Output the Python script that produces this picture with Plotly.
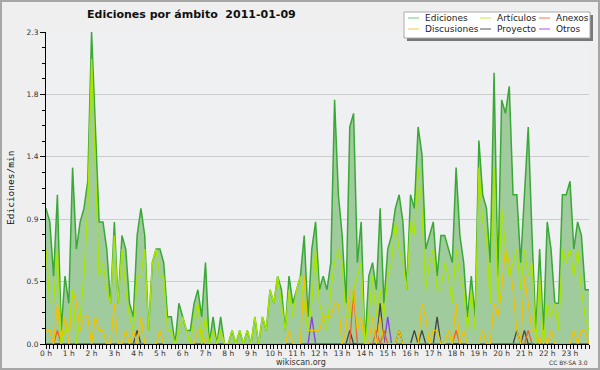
import plotly.graph_objects as go

# ---------------- data ----------------
hour_labels = [f"{h} h" for h in range(24)]
hour_ticks = [h * 60 for h in range(24)]
minutes = [i * 10 for i in range(144)]

ediciones = [
    1.0, 0.9, 0.5, 1.1, 0.1, 0.5, 0.3, 1.3, 0.7, 0.9,
    1.0, 1.2, 2.3, 1.6, 0.9, 0.9, 0.7, 0.3, 0.9, 0.3,
    0.8, 0.7, 0.3, 0.2, 0.8, 1.0, 0.8, 0.1, 0.6, 0.7,
    0.7, 0.6, 0.2, 0.2, 0.0, 0.3, 0.2, 0.1, 0.1, 0.3,
    0.4, 0.2, 0.6, 0.0, 0.2, 0.0, 0.2, 0.0, 0.0, 0.1,
    0.0, 0.1, 0.0, 0.1, 0.0, 0.2, 0.0, 0.2, 0.1, 0.4,
    0.3, 0.5, 0.4, 0.1, 0.5, 0.3, 0.4, 0.5, 0.8, 0.2,
    0.7, 0.9, 0.4, 0.5, 0.4, 0.6, 1.8, 1.1, 0.8, 0.3,
    1.6, 1.7, 0.6, 0.9, 0.0, 0.5, 0.6, 0.4, 1.0, 0.3,
    0.7, 0.8, 1.0, 1.1, 0.9, 0.4, 1.1, 1.0, 1.6, 1.4,
    0.7, 0.8, 0.9, 0.5, 0.8, 0.8, 0.7, 0.6, 1.3, 0.8,
    0.6, 0.2, 0.5, 0.2, 1.5, 1.1, 1.0, 0.6, 2.0, 0.5,
    1.8, 1.7, 1.9, 1.1, 1.1, 0.6, 1.1, 1.6, 0.8, 0.1,
    0.7, 0.1, 0.9, 0.7, 0.3, 0.3, 1.1, 1.1, 1.2, 0.7,
    0.9, 0.8, 0.4, 0.4,
]

articulos = [
    0.7, 0.3, 0.3, 0.7, 0.0, 0.1, 0.1, 0.4, 0.0, 0.2,
    0.5, 1.0, 2.1, 1.3, 0.5, 0.6, 0.4, 0.3, 0.8, 0.3,
    0.7, 0.4, 0.2, 0.1, 0.5, 0.5, 0.7, 0.1, 0.6, 0.7,
    0.5, 0.5, 0.1, 0.1, 0.0, 0.1, 0.2, 0.1, 0.0, 0.2,
    0.3, 0.0, 0.2, 0.0, 0.1, 0.0, 0.1, 0.0, 0.0, 0.1,
    0.0, 0.1, 0.0, 0.1, 0.0, 0.2, 0.0, 0.2, 0.1, 0.4,
    0.3, 0.5, 0.3, 0.1, 0.4, 0.2, 0.4, 0.5, 0.3, 0.1,
    0.3, 0.7, 0.3, 0.2, 0.1, 0.4, 0.6, 0.7, 0.6, 0.2,
    0.2, 0.4, 0.5, 0.6, 0.0, 0.2, 0.5, 0.2, 0.4, 0.2,
    0.5, 0.6, 0.9, 0.7, 0.6, 0.4, 0.9, 0.8, 1.3, 1.0,
    0.4, 0.6, 0.7, 0.4, 0.4, 0.6, 0.5, 0.3, 0.7, 0.5,
    0.4, 0.1, 0.4, 0.1, 1.3, 0.9, 0.8, 0.3, 1.3, 0.3,
    1.0, 0.7, 0.5, 0.6, 0.7, 0.4, 0.7, 0.5, 0.6, 0.0,
    0.5, 0.0, 0.3, 0.2, 0.3, 0.1, 0.7, 0.6, 0.7, 0.5,
    0.7, 0.4, 0.2, 0.1,
]

discusiones = [
    0.1, 0.1, 0.0, 0.3, 0.0, 0.2, 0.0, 0.4, 0.3, 0.1,
    0.2, 0.2, 0.0, 0.2, 0.1, 0.1, 0.0, 0.0, 0.3, 0.0,
    0.0, 0.1, 0.0, 0.1, 0.0, 0.2, 0.0, 0.0, 0.0, 0.0,
    0.1, 0.0, 0.0, 0.0, 0.0, 0.0, 0.0, 0.0, 0.0, 0.0,
    0.1, 0.1, 0.0, 0.0, 0.0, 0.0, 0.1, 0.0, 0.0, 0.0,
    0.0, 0.0, 0.0, 0.0, 0.0, 0.0, 0.0, 0.0, 0.0, 0.0,
    0.0, 0.0, 0.0, 0.0, 0.1, 0.0, 0.0, 0.0, 0.5, 0.1,
    0.1, 0.1, 0.1, 0.2, 0.2, 0.2, 0.3, 0.3, 0.0, 0.1,
    0.4, 0.4, 0.1, 0.2, 0.0, 0.0, 0.2, 0.0, 0.2, 0.0,
    0.0, 0.0, 0.0, 0.1, 0.0, 0.0, 0.0, 0.0, 0.0, 0.3,
    0.2, 0.0, 0.1, 0.1, 0.0, 0.0, 0.1, 0.0, 0.3, 0.0,
    0.1, 0.0, 0.0, 0.0, 0.0, 0.1, 0.0, 0.0, 0.3, 0.2,
    0.4, 0.7, 0.6, 0.4, 0.1, 0.0, 0.5, 0.3, 0.1, 0.1,
    0.0, 0.1, 0.0, 0.1, 0.0, 0.0, 0.0, 0.0, 0.0, 0.1,
    0.0, 0.1, 0.1, 0.0,
]

anexos = [
    0.0, 0.0, 0.0, 0.1, 0.0, 0.0, 0.0, 0.0, 0.0, 0.0,
    0.0, 0.0, 0.0, 0.0, 0.0, 0.0, 0.0, 0.0, 0.0, 0.0,
    0.0, 0.0, 0.0, 0.0, 0.0, 0.0, 0.0, 0.0, 0.0, 0.0,
    0.0, 0.0, 0.0, 0.0, 0.0, 0.0, 0.0, 0.0, 0.0, 0.0,
    0.0, 0.0, 0.0, 0.0, 0.0, 0.0, 0.0, 0.0, 0.0, 0.0,
    0.0, 0.0, 0.0, 0.0, 0.0, 0.0, 0.0, 0.0, 0.0, 0.0,
    0.0, 0.0, 0.0, 0.0, 0.0, 0.0, 0.0, 0.0, 0.0, 0.0,
    0.0, 0.0, 0.0, 0.0, 0.0, 0.0, 0.0, 0.0, 0.0, 0.0,
    0.0, 0.4, 0.0, 0.0, 0.0, 0.0, 0.0, 0.1, 0.0, 0.1,
    0.0, 0.0, 0.0, 0.0, 0.0, 0.0, 0.0, 0.0, 0.0, 0.0,
    0.0, 0.0, 0.0, 0.0, 0.0, 0.0, 0.0, 0.0, 0.1, 0.0,
    0.0, 0.0, 0.0, 0.0, 0.0, 0.0, 0.0, 0.0, 0.0, 0.0,
    0.0, 0.0, 0.0, 0.0, 0.0, 0.0, 0.0, 0.1, 0.0, 0.0,
    0.0, 0.0, 0.0, 0.0, 0.0, 0.0, 0.0, 0.0, 0.0, 0.0,
    0.0, 0.0, 0.0, 0.0,
]

proyecto = [
    0.0, 0.0, 0.0, 0.0, 0.0, 0.0, 0.0, 0.0, 0.0, 0.0,
    0.0, 0.0, 0.0, 0.0, 0.0, 0.0, 0.0, 0.0, 0.0, 0.0,
    0.0, 0.0, 0.0, 0.0, 0.1, 0.0, 0.0, 0.0, 0.0, 0.0,
    0.0, 0.0, 0.0, 0.0, 0.0, 0.0, 0.0, 0.0, 0.0, 0.0,
    0.0, 0.0, 0.0, 0.0, 0.0, 0.0, 0.0, 0.0, 0.0, 0.0,
    0.0, 0.0, 0.0, 0.0, 0.0, 0.0, 0.0, 0.0, 0.0, 0.0,
    0.0, 0.0, 0.0, 0.0, 0.0, 0.0, 0.0, 0.0, 0.0, 0.0,
    0.0, 0.0, 0.0, 0.0, 0.0, 0.0, 0.0, 0.0, 0.0, 0.0,
    0.1, 0.0, 0.0, 0.0, 0.0, 0.0, 0.0, 0.0, 0.3, 0.0,
    0.0, 0.0, 0.0, 0.1, 0.0, 0.0, 0.0, 0.1, 0.0, 0.1,
    0.0, 0.0, 0.0, 0.2, 0.0, 0.0, 0.0, 0.0, 0.0, 0.0,
    0.0, 0.0, 0.0, 0.0, 0.0, 0.0, 0.0, 0.0, 0.0, 0.0,
    0.0, 0.0, 0.0, 0.0, 0.1, 0.0, 0.1, 0.0, 0.0, 0.0,
    0.0, 0.0, 0.0, 0.0, 0.0, 0.0, 0.0, 0.0, 0.0, 0.0,
    0.0, 0.0, 0.0, 0.0,
]

otros = [
    0.0, 0.0, 0.0, 0.0, 0.0, 0.0, 0.0, 0.0, 0.0, 0.0,
    0.0, 0.0, 0.0, 0.0, 0.0, 0.0, 0.0, 0.0, 0.0, 0.0,
    0.0, 0.0, 0.0, 0.0, 0.0, 0.0, 0.0, 0.0, 0.0, 0.0,
    0.0, 0.0, 0.0, 0.0, 0.0, 0.0, 0.0, 0.0, 0.0, 0.0,
    0.0, 0.0, 0.0, 0.0, 0.0, 0.0, 0.0, 0.0, 0.0, 0.0,
    0.0, 0.0, 0.0, 0.0, 0.0, 0.0, 0.0, 0.0, 0.0, 0.0,
    0.0, 0.0, 0.0, 0.0, 0.0, 0.0, 0.0, 0.0, 0.0, 0.0,
    0.2, 0.0, 0.0, 0.0, 0.0, 0.0, 0.0, 0.0, 0.0, 0.0,
    0.0, 0.0, 0.0, 0.0, 0.0, 0.0, 0.0, 0.0, 0.0, 0.0,
    0.2, 0.0, 0.0, 0.0, 0.0, 0.0, 0.0, 0.0, 0.0, 0.0,
    0.0, 0.0, 0.0, 0.0, 0.0, 0.0, 0.0, 0.0, 0.0, 0.0,
    0.0, 0.0, 0.0, 0.0, 0.0, 0.0, 0.0, 0.0, 0.0, 0.0,
    0.0, 0.0, 0.0, 0.0, 0.0, 0.0, 0.0, 0.0, 0.0, 0.0,
    0.0, 0.0, 0.0, 0.0, 0.0, 0.0, 0.0, 0.0, 0.0, 0.0,
    0.0, 0.0, 0.0, 0.0,
]

y_tickvals = [0.0, 0.46, 0.92, 1.38, 1.84, 2.3]
y_ticktext = ["0.0", "0.5", "0.9", "1.4", "1.8", "2.3"]

# ---------------- styling ----------------
W, H = 600, 370
PL, PR, PT, PB = 46, 589, 32, 344

def px(x):
    return (x - PL) / (PR - PL)

def py(y):
    return (PB - y) / (PB - PT)

colors = {
    "Ediciones": "#3aa836",
    "Artículos": "#a8e600",
    "Discusiones": "#f2c200",
    "Anexos": "#f0602a",
    "Proyecto": "#444444",
    "Otros": "#8a3ee6",
}
legend_colors = {
    "Ediciones": "#74c874",
    "Artículos": "#c4ea4a",
    "Discusiones": "#f4c84a",
    "Anexos": "#f07a48",
    "Proyecto": "#555555",
    "Otros": "#9a5ae8",
}

fig = go.Figure()
fig.add_trace(go.Scatter(
    x=minutes, y=ediciones, mode="lines", name="Ediciones",
    line=dict(color=colors["Ediciones"], width=1.5),
    fill="tozeroy", fillcolor="#a0cb9c", showlegend=False,
))
for name, vals in [("Otros", otros), ("Proyecto", proyecto), ("Anexos", anexos),
                   ("Discusiones", discusiones), ("Artículos", articulos)]:
    fig.add_trace(go.Scatter(
        x=minutes, y=vals, mode="lines", name=name,
        line=dict(color=colors[name], width=1.3), showlegend=False,
    ))

tickfont = dict(family="DejaVu Sans", size=7.5, color="#333333")

fig.update_xaxes(
    range=[0, 1430], tickmode="array", tickvals=hour_ticks, ticktext=hour_labels,
    ticks="outside", ticklen=4, tickcolor="#000000", tickwidth=1,
    showline=True, linecolor="#000000", linewidth=1, showgrid=False, zeroline=False,
    tickfont=tickfont, ticklabelstandoff=-2,
    minor=dict(dtick=10, tick0=0, ticks="outside", ticklen=4, tickcolor="#000000", showgrid=False),
)
fig.update_yaxes(
    range=[0, 2.3], tickmode="array", tickvals=y_tickvals, ticktext=y_ticktext,
    ticks="outside", ticklen=5, tickcolor="#000000", tickwidth=1,
    showline=True, linecolor="#000000", linewidth=1,
    showgrid=True, gridcolor="#cccccc", gridwidth=1, zeroline=False,
    tickfont=tickfont,
    minor=dict(dtick=0.115, tick0=0, ticks="outside", ticklen=3, tickcolor="#000000", showgrid=False),
)

shapes = []
# outer border
shapes.append(dict(type="rect", xref="paper", yref="paper",
                   x0=px(1), x1=px(599), y0=py(369), y1=py(1),
                   line=dict(color="#a6a6a6", width=2), fillcolor="rgba(0,0,0,0)", layer="above"))
# legend shadow and box
shapes.append(dict(type="rect", xref="paper", yref="paper",
                   x0=px(407), x1=px(593), y0=py(41), y1=py(15),
                   line=dict(width=0), fillcolor="#777777", layer="above"))
shapes.append(dict(type="rect", xref="paper", yref="paper",
                   x0=px(404), x1=px(590), y0=py(38), y1=py(12),
                   line=dict(color="#aaaaaa", width=1), fillcolor="#ffffff", layer="above"))

annotations = []
legend_layout = [
    ("Ediciones", 408, 18), ("Artículos", 480, 18), ("Anexos", 539, 18),
    ("Discusiones", 408, 29), ("Proyecto", 480, 29), ("Otros", 539, 29),
]
for name, lx, ly in legend_layout:
    shapes.append(dict(type="line", xref="paper", yref="paper",
                       x0=px(lx), x1=px(lx + 11), y0=py(ly), y1=py(ly),
                       line=dict(color=legend_colors[name], width=1), layer="above"))
    annotations.append(dict(text=name, xref="paper", yref="paper",
                            x=px(lx + 15), y=py(ly), xanchor="left", yanchor="middle",
                            showarrow=False,
                            font=dict(family="DejaVu Sans", size=9, color="#222222")))

annotations.append(dict(text="<b>Ediciones por ámbito  2011-01-09</b>", xref="paper", yref="paper",
                        x=px(85), y=py(15), xanchor="left", yanchor="middle", showarrow=False,
                        font=dict(family="DejaVu Sans", size=11, color="#111111")))
annotations.append(dict(text="Ediciones/min", xref="paper", yref="paper",
                        x=px(10), y=py(188), xanchor="center", yanchor="middle",
                        textangle=-90, showarrow=False,
                        font=dict(family="DejaVu Sans Mono", size=9.5, color="#111111")))
annotations.append(dict(text="wikiscan.org", xref="paper", yref="paper",
                        x=px(301), y=py(362), xanchor="center", yanchor="middle", showarrow=False,
                        font=dict(family="DejaVu Sans", size=8, color="#333333")))
annotations.append(dict(text="CC BY-SA 3.0", xref="paper", yref="paper",
                        x=px(590), y=py(362), xanchor="right", yanchor="middle", showarrow=False,
                        font=dict(family="DejaVu Sans", size=6, color="#333333")))

fig.update_layout(
    width=W, height=H,
    margin=dict(l=PL, r=W - PR, t=PT, b=H - PB, pad=0),
    paper_bgcolor="#efefef", plot_bgcolor="#eef0f2",
    showlegend=False, shapes=shapes, annotations=annotations,
)

fig.write_html("out.html", config={"displayModeBar": False},
               post_script="document.body.style.margin='0px';document.body.style.overflow='hidden';")
